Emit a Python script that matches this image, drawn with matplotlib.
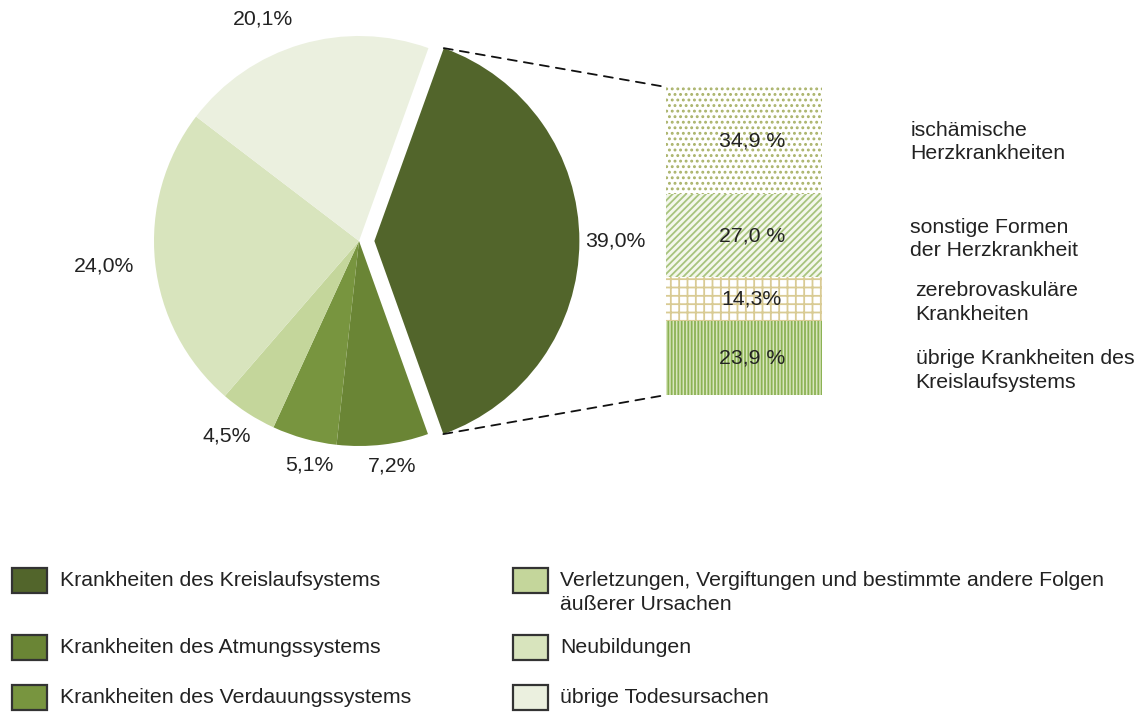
import numpy as np
import matplotlib
matplotlib.use("Agg")
import matplotlib.pyplot as plt
import matplotlib.transforms as mtransforms
from matplotlib.patches import Rectangle, ConnectionPatch

plt.rcParams['font.family'] = ['Liberation Sans', 'DejaVu Sans']
plt.rcParams['hatch.linewidth'] = 1.3

# ---------------- data ----------------
pie_labels = ["Krankheiten des Kreislaufsystems",
              "Krankheiten des Atmungssystems",
              "Krankheiten des Verdauungssystems",
              "Verletzungen, Vergiftungen und bestimmte andere Folgen\näußerer Ursachen",
              "Neubildungen",
              "übrige Todesursachen"]
pie_values = [39.0, 7.2, 5.1, 4.5, 24.0, 20.1]
pie_texts = ["39,0%", "7,2%", "5,1%", "4,5%", "24,0%", "20,1%"]
pie_colors = ["#52652b", "#6a8535", "#78953f", "#c4d69b", "#d8e4bd", "#ebf0df"]

bar_labels = ["ischämische\nHerzkrankheiten",
              "sonstige Formen\nder Herzkrankheit",
              "zerebrovaskuläre\nKrankheiten",
              "übrige Krankheiten des\nKreislaufsystems"]
bar_values = [34.9, 27.0, 14.3, 23.9]          # top to bottom
bar_texts = ["34,9 %", "27,0 %", "14,3%", "23,9 %"]

# ---------------- style ----------------
FS = 15.3
TXT = "#222222"
bar_face = ["#ffffff", "#f4f7ec", "#ffffff", "#d8e6bd"]
bar_hatch_color = ["#aab36a", "#a8c47e", "#d9cb94", "#8cb254"]
bar_hatches = ["...", "/////", "++", "|||||"]
label_dist = [1.175, 1.11, 1.12, 1.15, 1.25, 1.18]
label_dang = [0.0, 1.8, 3.0, -1.3, -0.3, 7.0]

W, H = 1147, 713
fig = plt.figure(figsize=(W / 100, H / 100), dpi=100)

# pie axes: radius 1 -> 205 px, center at (359, 241) px from top-left
R = 205.0
a = 1.4
side = 2 * a * R
cx, cy = 359, 241
ax = fig.add_axes([(cx - side / 2) / W, (H - cy - side / 2) / H, side / W, side / H])

start = pie_values[0] * 3.6 / 2   # first slice centred on the right
wedges, _ = ax.pie(pie_values, colors=pie_colors, startangle=start,
                   counterclock=False, explode=[0.075, 0, 0, 0, 0, 0],
                   wedgeprops=dict(linewidth=0), radius=1.0)
ax.set_xlim(-a, a)
ax.set_ylim(-a, a)
ax.set_aspect('equal')
ax.axis('off')

for w, t, d, da in zip(wedges, pie_texts, label_dist, label_dang):
    ang = np.deg2rad((w.theta1 + w.theta2) / 2 + da)
    x = w.center[0] + d * np.cos(ang)
    y = w.center[1] + d * np.sin(ang)
    ax.text(x, y, t, ha='center', va='center', fontsize=FS, color=TXT, clip_on=False)

# bar axes
bl, bt, br, bb = 666, 87, 822, 395
bax = fig.add_axes([bl / W, (H - bb) / H, (br - bl) / W, (bb - bt) / H])
bax.set_xlim(-0.5, 0.5)
bax.set_ylim(0, sum(bar_values))
bax.axis('off')

bottom = sum(bar_values)
for v, t, fc, hc, hs in zip(bar_values, bar_texts, bar_face, bar_hatch_color, bar_hatches):
    bottom -= v
    bax.bar(0, v, width=1.0, bottom=bottom, color=fc, edgecolor=hc,
            hatch=hs, linewidth=0)
    bax.text(0.05, bottom + v / 2, t, ha='center', va='center', fontsize=FS, color=TXT)

# side labels
side_x = [1.565, 1.565, 1.6, 1.6]
side_dy = [-0.5, -1.0, -1.0, -4.0]
btrans = mtransforms.blended_transform_factory(bax.transAxes, bax.transData)
bottom = sum(bar_values)
for v, lab, sx, dy in zip(bar_values, bar_labels, side_x, side_dy):
    bottom -= v
    bax.text(sx, bottom + v / 2 + dy, lab, ha='left', va='center', fontsize=FS,
             color=TXT, linespacing=1.3, transform=btrans, clip_on=False)

# connecting dashed lines
w0 = wedges[0]
for theta, yb in [(w0.theta2, sum(bar_values)), (w0.theta1, 0)]:
    th = np.deg2rad(theta)
    xa = w0.center[0] + w0.r * np.cos(th)
    ya = w0.center[1] + w0.r * np.sin(th)
    con = ConnectionPatch(xyA=(xa, ya), coordsA=ax.transData,
                          xyB=(-0.5, yb), coordsB=bax.transData,
                          linestyle=(0, (5, 4)), color="#111111", linewidth=1.3)
    fig.add_artist(con)

# legend (manual, table-like)
rows_y = [580, 647, 697]
cols = [(12, 60), (513, 560)]
sw_w, sw_h = 35, 25
for i, (lab, col) in enumerate(zip(pie_labels, pie_colors)):
    c, r = divmod(i, 3)
    sx, tx = cols[c]
    y = rows_y[r]
    rect = Rectangle((sx / W, (H - y - sw_h / 2) / H), sw_w / W, sw_h / H,
                     transform=fig.transFigure, facecolor=col,
                     edgecolor="#333333", linewidth=1.6)
    fig.add_artist(rect)
    fig.text(tx / W, (H - y + 9) / H, lab, ha='left', va='top', fontsize=FS,
             color=TXT, linespacing=1.35)

fig.savefig("out.png", dpi=100)
